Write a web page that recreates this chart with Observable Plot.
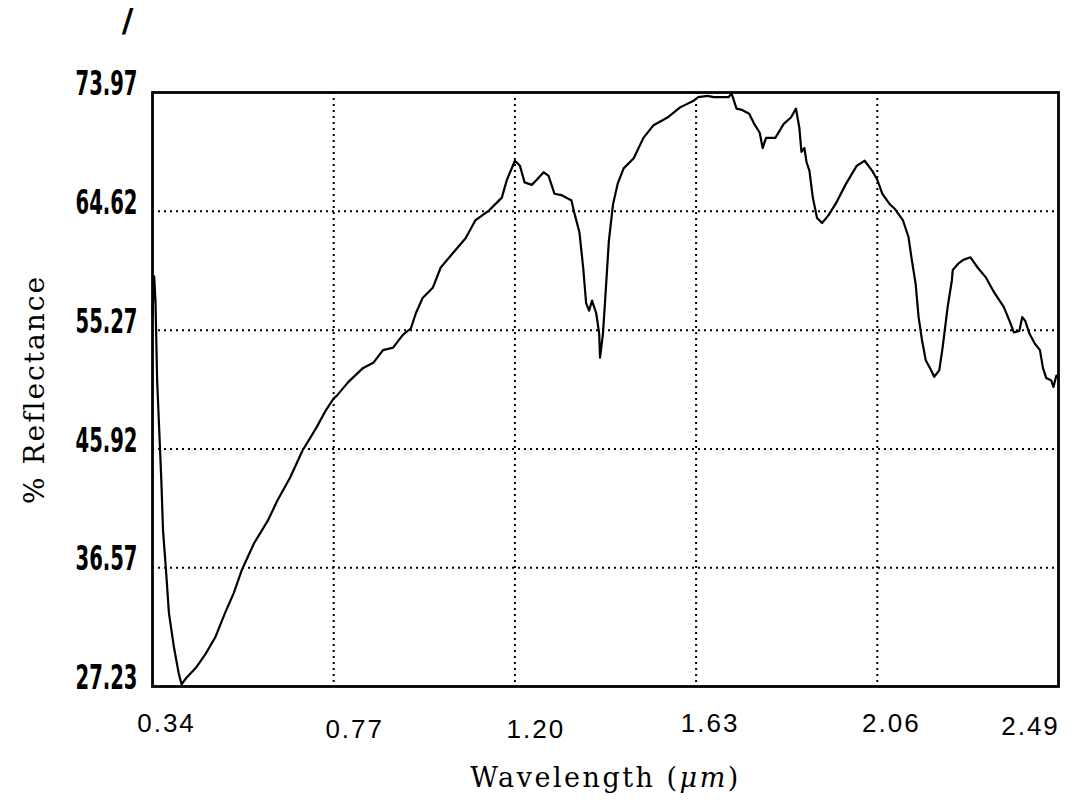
<!DOCTYPE html>
<html><head><meta charset="utf-8">
<script src="https://cdn.jsdelivr.net/npm/d3@7"></script>
<script src="https://cdn.jsdelivr.net/npm/@observablehq/plot@0.6"></script>
<style>body{margin:0;background:#fff}</style>
</head><body><div id="chart"></div>
<script>
const wavelength = [0.340,0.344,0.347,0.351,0.356,0.361,0.365,0.372,0.379,0.391,0.402,0.409,0.420,0.443,0.466,0.489,0.512,0.533,0.552,0.581,0.614,0.637,0.667,0.696,0.729,0.752,0.770,0.777,0.805,0.840,0.864,0.887,0.911,0.934,0.953,0.965,0.981,1.005,1.024,1.052,1.083,1.106,1.139,1.169,1.181,1.200,1.212,1.223,1.240,1.252,1.268,1.280,1.294,1.310,1.327,1.334,1.341,1.353,1.362,1.369,1.376,1.383,1.393,1.400,1.402,1.409,1.416,1.423,1.433,1.444,1.458,1.482,1.505,1.529,1.562,1.592,1.623,1.635,1.657,1.672,1.707,1.714,1.726,1.739,1.756,1.768,1.781,1.788,1.796,1.818,1.838,1.855,1.867,1.875,1.880,1.887,1.892,1.899,1.907,1.917,1.929,1.944,1.961,1.986,2.011,2.030,2.048,2.060,2.072,2.089,2.102,2.121,2.134,2.141,2.151,2.158,2.166,2.175,2.188,2.195,2.207,2.215,2.227,2.237,2.239,2.252,2.264,2.281,2.298,2.318,2.338,2.360,2.375,2.384,2.397,2.404,2.411,2.421,2.434,2.446,2.453,2.461,2.473,2.478,2.485,2.490];
const reflectance = [56.5,59.5,57.6,51.3,47.4,43.4,39.5,36.4,33.0,30.3,28.3,27.4,27.9,28.7,29.8,31.1,33.0,34.6,36.4,38.5,40.3,41.9,43.7,45.8,47.6,49.0,49.9,50.1,51.2,52.3,52.7,53.7,53.9,54.9,55.4,56.6,57.8,58.6,60.2,61.3,62.5,63.9,64.7,65.7,67.1,68.6,68.2,66.9,66.7,67.1,67.7,67.4,66.0,65.9,65.6,65.5,64.5,63.0,60.2,57.4,56.8,57.6,56.6,55.0,53.1,55.0,58.6,62.3,65.2,66.8,68.0,68.8,70.4,71.4,72.0,72.8,73.3,73.6,73.7,73.6,73.6,73.9,72.7,72.6,72.3,71.5,70.8,69.6,70.4,70.4,71.5,72.0,72.7,71.2,69.3,69.6,68.5,67.8,65.7,64.1,63.7,64.3,65.2,66.8,68.2,68.6,67.8,67.1,66.0,65.2,64.8,63.9,62.6,61.0,58.9,56.3,54.5,52.9,52.1,51.6,52.1,53.9,57.1,59.2,60.0,60.5,60.8,61.0,60.2,59.4,58.2,57.1,55.9,55.1,55.2,56.3,56.0,55.0,54.2,53.7,52.3,51.5,51.3,50.8,51.7,51.6];
const xTickValues = [0.34, 0.77, 1.20, 1.63, 2.06, 2.49];
const yTickValues = [27.23, 36.57, 45.92, 55.27, 64.62, 73.97];
const xLabel = "Wavelength (μm)";
const yLabel = "% Reflectance";
const scanMark = ["/"];

const data = wavelength.map((w, i) => ({w, r: reflectance[i]}));
const fmt = d => d.toFixed(2);
const sansFont = "'Liberation Sans', Arial, Helvetica, sans-serif";
const serifFont = "'DejaVu Serif', 'Liberation Serif', serif";
const tickYFont = "'DejaVu Sans', sans-serif";
const gridStyle = {stroke: "black", strokeOpacity: 1, strokeWidth: 2, strokeDasharray: "2 4"};

const chart = Plot.plot({
  width: 1074, height: 804,
  marginLeft: 152, marginRight: 16, marginTop: 92, marginBottom: 118,
  x: {domain: [0.34, 2.49]},
  y: {domain: [27.23, 73.97]},
  style: {background: "white", color: "black"},
  marks: [
    Plot.gridX(xTickValues.slice(1, -1), gridStyle),
    Plot.gridY(yTickValues.slice(1, -1), gridStyle),
    Plot.line(data, {x: "w", y: "r", stroke: "black", strokeWidth: 2.2}),
    Plot.frame({stroke: "black", strokeWidth: 2.8}),
    Plot.axisY(yTickValues, {tickSize: 0, tickPadding: 15, dy: -8, label: null, tickFormat: fmt,
      fontSize: 33, fontWeight: "bold", fontFamily: tickYFont}),
    Plot.axisX([xTickValues[0], xTickValues[3], xTickValues[4]], {tickSize: 0, tickPadding: 27, dx: 14, label: null,
      tickFormat: fmt, fontSize: 26, fontFamily: sansFont}),
    Plot.axisX([xTickValues[1], xTickValues[2]], {tickSize: 0, tickPadding: 33, dx: 21, label: null,
      tickFormat: fmt, fontSize: 26, fontFamily: sansFont}),
    Plot.axisX([xTickValues[5]], {tickSize: 0, tickPadding: 30, dx: -28, label: null,
      tickFormat: fmt, fontSize: 26, fontFamily: sansFont}),
    Plot.text([yLabel], {frameAnchor: "left", textAnchor: "middle", lineAnchor: "middle", dx: -117, rotate: -90, fontSize: 28, fontFamily: serifFont}),
    Plot.text([xLabel], {frameAnchor: "bottom", textAnchor: "middle", lineAnchor: "middle", dy: 92, fontSize: 27, fontFamily: serifFont}),
    Plot.text(scanMark, {frameAnchor: "top-left", textAnchor: "middle", lineAnchor: "middle", dx: -25, dy: -72, fontSize: 32, fontWeight: "bold", fontFamily: "'DejaVu Sans', sans-serif"})
  ]
});
document.getElementById("chart").appendChild(chart);
const svg = d3.select(chart);
svg.selectAll("text").each(function() {
  const t = this.textContent;
  if (t === xLabel) {
    this.innerHTML = 'Wavelength (<tspan font-style="italic">μm</tspan>)';
    this.setAttribute("letter-spacing", "2.5");
  } else if (t === yLabel) {
    this.setAttribute("letter-spacing", "2");
  } else if (yTickValues.map(fmt).includes(t) && this.closest('[aria-label="y-axis tick label"]')) {
    this.setAttribute("textLength", "62");
    this.setAttribute("lengthAdjust", "spacingAndGlyphs");
  } else if (xTickValues.map(fmt).includes(t)) {
    this.setAttribute("letter-spacing", "2");
  }
});
</script>
</body></html>
